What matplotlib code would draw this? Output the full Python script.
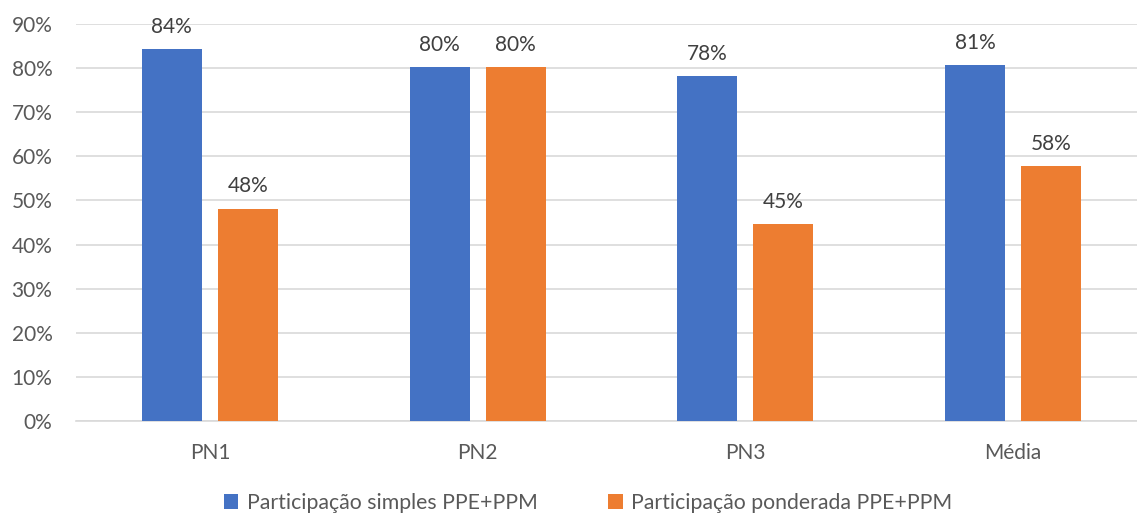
import matplotlib.pyplot as plt
import numpy as np

plt.rcParams["font.family"] = ["Lato", "DejaVu Sans"]

# participação por grupo
grupos = ["PN1", "PN2", "PN3", "Média"]
simples = [0.843, 0.802, 0.781, 0.806]
ponderada = [0.481, 0.802, 0.446, 0.578]
series = ["Participação simples PPE+PPM", "Participação ponderada PPE+PPM"]
yticks = [0, 0.1, 0.2, 0.3, 0.4, 0.5, 0.6, 0.7, 0.8, 0.9]

azul = "#4472C4"
laranja = "#ED7D31"

fig = plt.figure(figsize=(11.37, 5.17), dpi=100)
ax = fig.add_axes([76 / 1137, 96 / 517, 1071 / 1137, 397 / 517])

x = np.arange(len(grupos))
w = 0.224
off = 0.142
b1 = ax.bar(x - off, simples, w, color=azul, label=series[0], zorder=3)
b2 = ax.bar(x + off, ponderada, w, color=laranja, label=series[1], zorder=3)

# rótulos de valor acima de cada barra
for barras in (b1, b2):
    for r in barras:
        v = r.get_height()
        ax.text(r.get_x() + r.get_width() / 2, v + 0.028, f"{v:.0%}",
                ha="center", va="bottom", fontsize=15, color="#404040")

ax.set_xlim(-0.5, 3.5)
ax.set_ylim(0, 0.9)
ax.set_yticks(yticks)
ax.set_yticklabels([f"{t:.0%}" for t in yticks])
ax.set_xticks(x)
ax.set_xticklabels(grupos)
ax.tick_params(axis="both", length=0, labelsize=15, labelcolor="#595959")
ax.tick_params(axis="y", pad=17)
ax.tick_params(axis="x", pad=16)

ax.grid(axis="y", color="#D9D9D9", linewidth=1.2, zorder=0)
for s in ["top", "right", "left"]:
    ax.spines[s].set_visible(False)
ax.spines["bottom"].set_color("#D9D9D9")
ax.spines["bottom"].set_linewidth(1.2)

fig.legend(handles=[b1, b2], loc="center", bbox_to_anchor=(588 / 1137, 14 / 517),
           ncol=2, frameon=False, fontsize=15.3, labelcolor="#595959",
           handlelength=0.7, handleheight=0.7, handletextpad=0.4, columnspacing=3.3)

fig.savefig("out.png", dpi=100)
